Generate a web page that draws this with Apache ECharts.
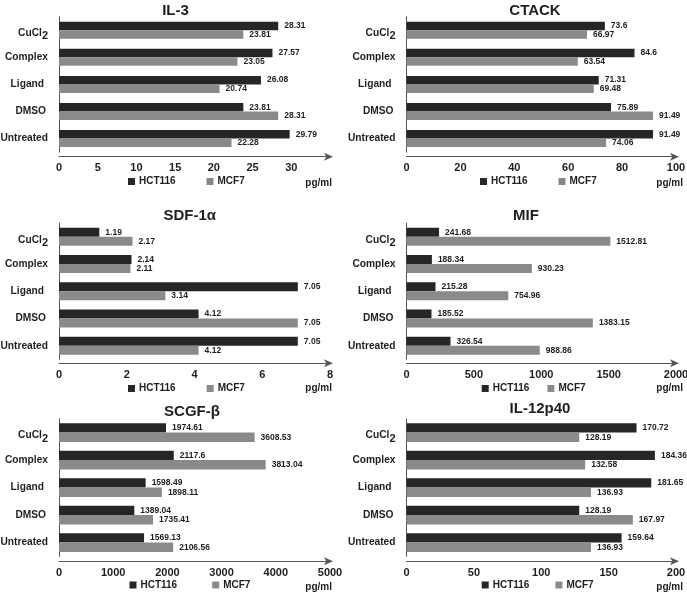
<!DOCTYPE html>
<html><head><meta charset="utf-8">
<script src="https://cdn.jsdelivr.net/npm/echarts@6/dist/echarts.min.js"></script>
<style>html,body{margin:0;padding:0;background:#fff}#c{width:687px;height:596px}</style>
</head><body><div id="c"></div>
<script>
const categories = ['CuCl2', 'Complex', 'Ligand', 'DMSO', 'Untreated'];
const seriesNames = ['HCT116', 'MCF7'];
const unitLabel = 'pg/ml';

const il3Hct = [28.31, 27.57, 26.08, 23.81, 29.79];
const il3Mcf = [23.81, 23.05, 20.74, 28.31, 22.28];
const ctackHct = [73.6, 84.6, 71.31, 75.89, 91.49];
const ctackMcf = [66.97, 63.54, 69.48, 91.49, 74.06];
const sdfHct = [1.19, 2.14, 7.05, 4.12, 7.05];
const sdfMcf = [2.17, 2.11, 3.14, 7.05, 4.12];
const mifHct = [241.68, 188.34, 215.28, 185.52, 326.54];
const mifMcf = [1512.81, 930.23, 754.96, 1383.15, 988.86];
const scgfHct = [1974.61, 2117.6, 1598.49, 1389.04, 1569.13];
const scgfMcf = [3608.53, 3813.04, 1898.11, 1735.41, 2106.56];
const il12Hct = [170.72, 184.36, 181.65, 128.19, 159.64];
const il12Mcf = [128.19, 132.58, 136.93, 167.97, 136.93];

const titles = ['IL-3', 'CTACK', 'SDF-1α', 'MIF', 'SCGF-β', 'IL-12p40'];
const axisMax = [35, 100, 8, 2000, 5000, 200];
const axisStep = [5, 20, 2, 500, 1000, 50];
const hctData = [il3Hct, ctackHct, sdfHct, mifHct, scgfHct, il12Hct];
const mcfData = [il3Mcf, ctackMcf, sdfMcf, mifMcf, scgfMcf, il12Mcf];

// layout (positions/styles)
const FONT = "'Liberation Sans', Arial, sans-serif";
const DARK = '#262626', LIGHT = '#8a8a8a', TXT = '#1e1e1e', AX = '#555';
const rows = [
  {top: 16.65, h: 135.5, off: 4.55, bw: 8.5, legY: 182.5, unitY: 183},
  {top: 223.1, h: 136.25, off: 4, bw: 9, legY: 389.5, unitY: 388.5},
  {top: 418.85, h: 137.5, off: 5, bw: 9.3, legY: 586, unitY: 587}
];
const cols = [
  {left: 59, w: 271, unitX: 332},
  {left: 406.5, w: 269.5, unitX: 683}
];
const titlePos = [[175.5, 3], [535, 3], [189.7, 208], [526, 208], [192, 404], [540, 401]];
const legendPos = [[128, 30.8], [480, 30.8], [128, 31], [481.7, 18], [129.5, 35], [481.7, 26]];

const option = {
  animation: false,
  backgroundColor: '#fff',
  textStyle: {fontFamily: FONT},
  title: [], grid: [], xAxis: [], yAxis: [], series: [], legend: [], graphic: []
};

const CAT_FS = 10.2;
const richBase = {fontFamily: FONT, fontWeight: 'bold', fontSize: CAT_FS, color: TXT, lineHeight: 12};

for (let i = 0; i < 6; i++) {
  const r = rows[Math.floor(i / 2)], c = cols[i % 2];
  option.title.push({
    text: titles[i], left: titlePos[i][0], top: titlePos[i][1], textAlign: 'center', padding: 0,
    textStyle: {fontFamily: FONT, fontWeight: 'bold', fontSize: 15, color: TXT}
  });
  option.grid.push({left: c.left, top: r.top, width: c.w, height: r.h, containLabel: false, outerBoundsMode: 'none'});
  const mx = axisMax[i], hideMax = (i === 0);
  option.xAxis.push({
    gridIndex: i, type: 'value', min: 0, max: mx, interval: axisStep[i], offset: r.off,
    splitLine: {show: false}, axisTick: {show: false},
    axisLine: {show: true, lineStyle: {color: AX, width: 1}, symbol: ['none', 'arrow'], symbolSize: [6, 9], symbolOffset: [0, 3]},
    axisLabel: {margin: 6, fontFamily: FONT, fontWeight: 'bold', fontSize: 11, color: TXT,
      formatter: v => (hideMax && v === mx) ? '' : String(v)}
  });
  option.yAxis.push({
    gridIndex: i, type: 'category', data: categories, inverse: true,
    axisTick: {show: false},
    axisLine: {show: true, lineStyle: {color: AX, width: 1}},
    axisLabel: {margin: 11, fontFamily: FONT, fontWeight: 'bold', fontSize: CAT_FS, color: TXT,
      formatter: v => v === 'CuCl2' ? '{a|CuCl}{b|2}' : (v === 'Ligand' ? '{l|Ligand}' : (v === 'DMSO' ? '{d|DMSO}' : v)),
      rich: {
        a: Object.assign({}, richBase, {padding: [6, 0, 0, 0]}),
        b: Object.assign({}, richBase, {fontSize: 11, padding: [12, 0, 0, 0]}),
        l: Object.assign({}, richBase, {padding: [0, 4, 0, 0]}),
        d: Object.assign({}, richBase, {padding: [0, 2, 0, 0]})
      }}
  });
  [hctData[i], mcfData[i]].forEach((d, k) => {
    option.series.push({
      type: 'bar', name: seriesNames[k], xAxisIndex: i, yAxisIndex: i, data: d,
      barWidth: r.bw, barGap: '0%',
      itemStyle: {color: k === 0 ? DARK : LIGHT},
      label: {show: true, position: 'right', distance: 6, fontFamily: FONT, fontWeight: 'bold',
        fontSize: 8.5, color: TXT, formatter: p => String(p.value)}
    });
  });
  option.legend.push({
    data: seriesNames, left: legendPos[i][0], top: r.legY - 6, padding: 0,
    itemWidth: 7, itemHeight: 7, itemGap: legendPos[i][1], icon: 'rect',
    textStyle: {fontFamily: FONT, fontWeight: 'bold', fontSize: 10, color: TXT, padding: [0, 0, 0, -1]}
  });
  option.graphic.push({
    type: 'text', x: c.unitX, y: r.unitY,
    style: {text: unitLabel, fill: TXT, font: "bold 10px 'Liberation Sans', Arial, sans-serif",
      textAlign: 'right', textVerticalAlign: 'middle'}
  });
}

const chart = echarts.init(document.getElementById('c'), null, {renderer: 'canvas'});
chart.setOption(option);
</script>
</body></html>
